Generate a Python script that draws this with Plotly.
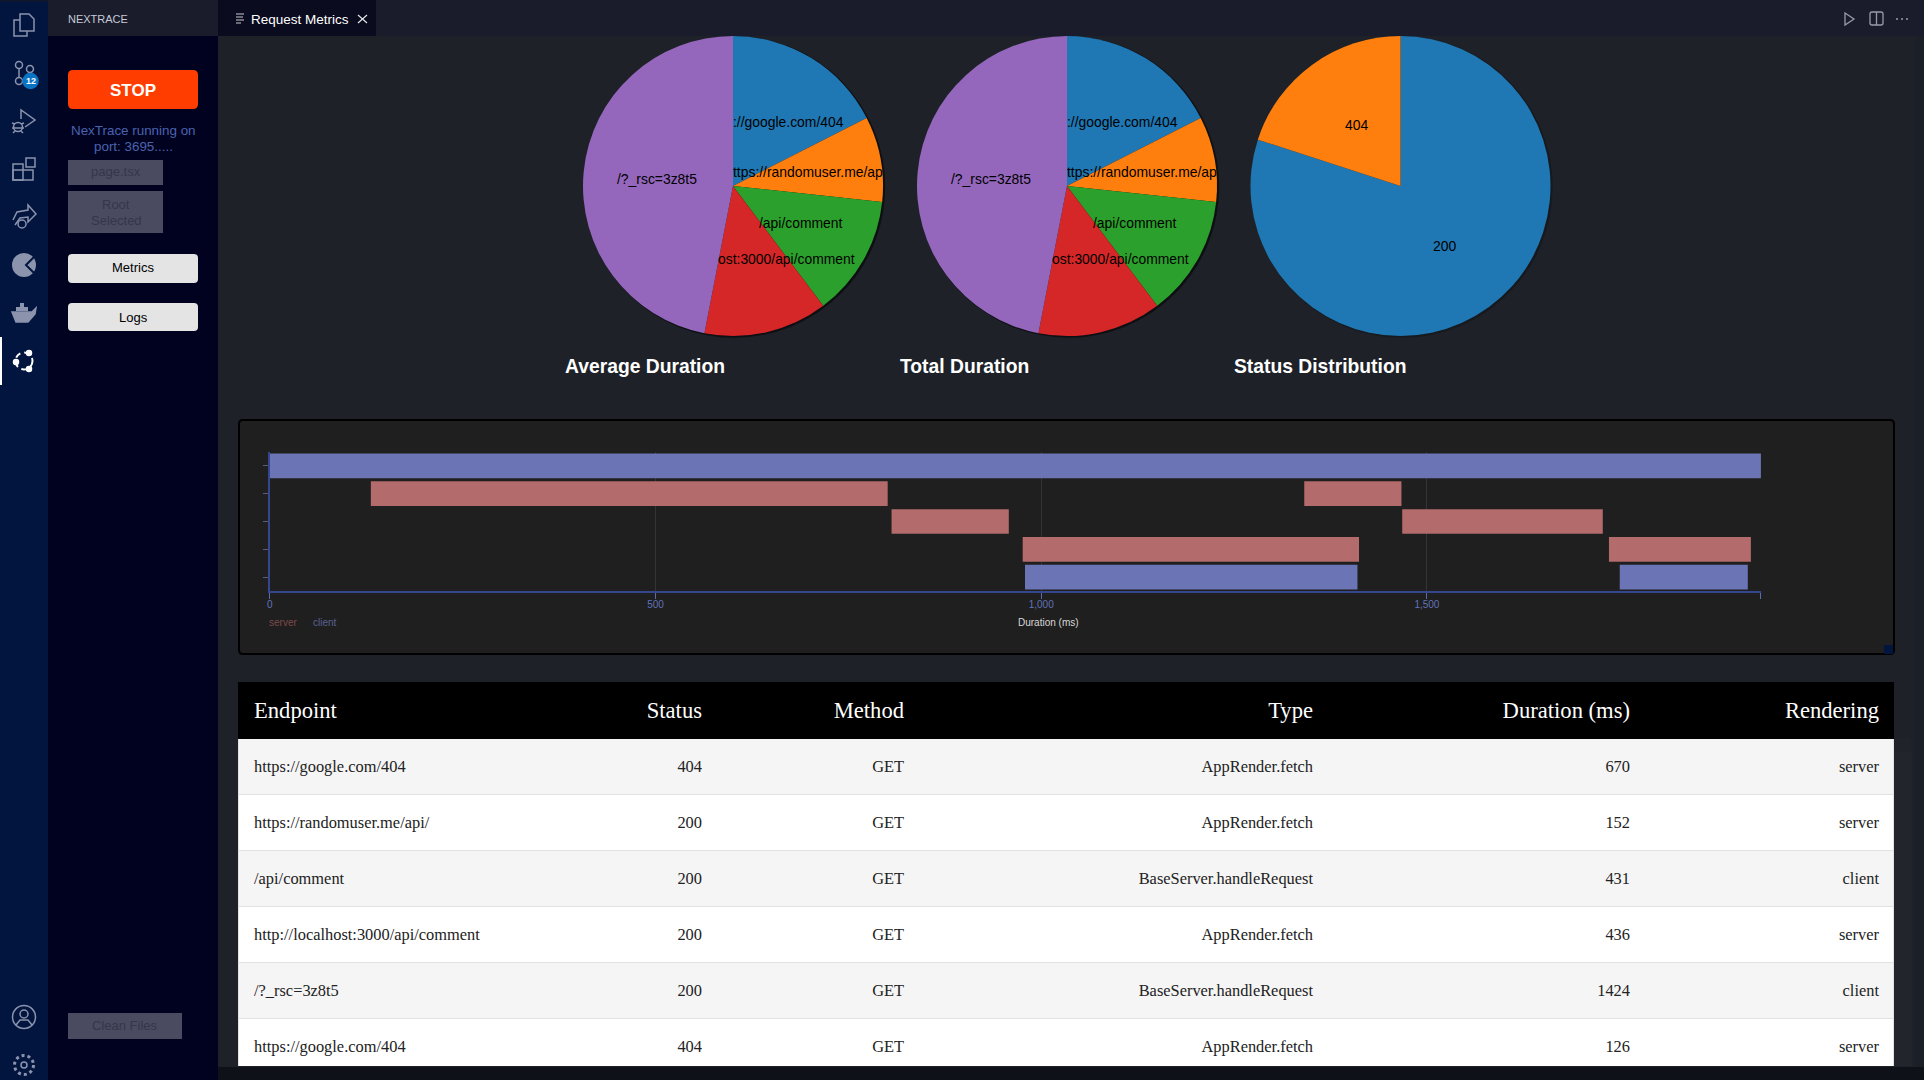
import plotly.graph_objects as go

W = 1924
H = 1080

# pies
endpoints = ["https://google.com/404", "https://randomuser.me/api/", "/api/comment",
             "http://localhost:3000/api/comment", "/?_rsc=3z8t5"]
avg_duration = [531, 279, 395, 404, 1424]
total_duration = [531, 279, 395, 404, 1424]
status_labels = ["200", "404"]
status_counts = [8, 2]
pie_colors = ["#1f77b4", "#ff7f0e", "#2ca02c", "#d62728", "#9467bd"]
# labels as they show, cut off by the pie
pie_text = ["://google.com/404", "ttps://randomuser.me/ap", "/api/comment", "ost:3000/api/comment", "/?_rsc=3z8t5"]

# gantt
gantt_rows = ["/?_rsc=3z8t5", "https://google.com/404", "https://randomuser.me/api/",
              "http://localhost:3000/api/comment", "/api/comment"]
server_row = ["https://google.com/404", "https://google.com/404", "https://randomuser.me/api/",
              "https://randomuser.me/api/", "http://localhost:3000/api/comment",
              "http://localhost:3000/api/comment"]
server_start = [131, 1341, 806, 1468, 976, 1736]
server_duration = [670, 126, 152, 260, 436, 184]
client_row = ["/?_rsc=3z8t5", "/api/comment", "/api/comment"]
client_start = [0, 979, 1750]
client_duration = [1933, 431, 166]
duration_ticks = [0, 500, 1000, 1500, 1933]
duration_ticktext = ["0", "500", "1,000", "1,500", ""]

# table
table_header = ["", "Endpoint", "Status", "Method", "Type", "Duration (ms)", "Rendering", ""]
col_endpoint = ["https://google.com/404", "https://randomuser.me/api/", "/api/comment",
                "http://localhost:3000/api/comment", "/?_rsc=3z8t5", "https://google.com/404"]
col_status = ["404", "200", "200", "200", "200", "404"]
col_method = ["GET", "GET", "GET", "GET", "GET", "GET"]
col_type = ["AppRender.fetch", "AppRender.fetch", "BaseServer.handleRequest", "AppRender.fetch",
            "BaseServer.handleRequest", "AppRender.fetch"]
col_duration = ["670", "152", "431", "436", "1424", "126"]
col_rendering = ["server", "server", "client", "server", "client", "server"]


def px(x):
    return x / W


def py(y):
    return 1 - y / H


def rect(x0, y0, x1, y1, fill, line=None, lw=0):
    return dict(type="rect", xref="paper", yref="paper", x0=px(x0), x1=px(x1), y0=py(y0), y1=py(y1),
                fillcolor=fill, line=dict(color=line or fill, width=lw), layer="below")


def rrect(x0, y0, x1, y1, r, fill, line=None, lw=0):
    d = (f"M{px(x0 + r)},{py(y0)} L{px(x1 - r)},{py(y0)} Q{px(x1)},{py(y0)} {px(x1)},{py(y0 + r)} "
         f"L{px(x1)},{py(y1 - r)} Q{px(x1)},{py(y1)} {px(x1 - r)},{py(y1)} "
         f"L{px(x0 + r)},{py(y1)} Q{px(x0)},{py(y1)} {px(x0)},{py(y1 - r)} "
         f"L{px(x0)},{py(y0 + r)} Q{px(x0)},{py(y0)} {px(x0 + r)},{py(y0)} Z")
    return dict(type="path", xref="paper", yref="paper", path=d, fillcolor=fill,
                line=dict(color=line or fill, width=lw), layer="below")


def circle(cx, cy, r, fill="rgba(0,0,0,0)", line=None, lw=1.5, dash="solid"):
    return dict(type="circle", xref="paper", yref="paper", x0=px(cx - r), x1=px(cx + r), y0=py(cy + r), y1=py(cy - r),
                fillcolor=fill, line=dict(color=line or fill, width=lw, dash=dash), layer="below")


def poly(points, line, lw=1.5, closed=False, fill="rgba(0,0,0,0)"):
    d = "M" + " L".join(f"{px(a)},{py(b)}" for a, b in points)
    if closed:
        d += " Z"
    return dict(type="path", xref="paper", yref="paper", path=d, fillcolor=fill,
                line=dict(color=line, width=lw), layer="below")


def label(x, y, text, size=13, color="#000000", anchor="center", family="Liberation Sans"):
    return dict(xref="paper", yref="paper", x=px(x), y=py(y), text=text, showarrow=False, xanchor=anchor,
                yanchor="middle", font=dict(size=size, color=color, family=family))


BG = "#1e2228"
ICON = "#8b93ad"
NONE = "rgba(0,0,0,0)"

shapes = [
    rect(0, 0, 48, H, "#02153f"),
    rect(48, 0, 218, H, "#01021f"),
    rect(48, 0, W, 36, "#1a1c2c"),
    rect(0, 0, 48, 2, "#0d1730"),
    rect(218, 0, 376, 36, "#0a0b1e"),
    rect(1915, 36, W, H, "#1b1f27"),
    rect(218, 1067, W, H, "#0f1118"),
    rect(0, 337, 2, 385, "#ffffff"),
    # pie drop shadows
    circle(734.5, 187, 150, fill="#0e1014"), circle(1068.5, 187, 150, fill="#0e1014"),
    circle(1402, 187, 150, fill="#171a1f"),
    # gantt panel
    rrect(239, 420, 1894, 654, 4, "#1f1f1f", "#000000", 2),
    rect(1884, 645, 1893, 654, "#02153f"),
    # buttons
    rrect(68, 70, 198, 109, 5, "#ff3d00"),
    rect(68, 160, 163, 185, "#4a4b60"),
    rect(68, 191, 163, 233, "#4a4b60"),
    rrect(68, 254, 198, 283, 4, "#e4e4e4"),
    rrect(68, 303, 198, 331, 4, "#e4e4e4"),
    rect(68, 1013, 182, 1039, "#4a4b60"),
    # files icon
    poly([(20, 14), (29, 14), (34, 19), (34, 31), (20, 31)], ICON, closed=True),
    poly([(20, 20), (14, 20), (14, 36), (27, 36), (27, 31)], ICON),
    # git icon
    circle(19, 65, 3.5, line=ICON), circle(19, 81, 3.5, line=ICON), circle(30, 69, 3.5, line=ICON),
    poly([(19, 69), (19, 77)], ICON), poly([(30, 73), (23, 80)], ICON),
    # debug icon
    poly([(21, 119), (21, 110), (35, 120), (25, 127)], ICON),
    circle(18, 127, 4.5, line=ICON),
    poly([(12, 123), (15, 124)], ICON), poly([(24, 123), (21, 124)], ICON),
    poly([(12, 128), (24, 128)], ICON), poly([(13, 133), (15, 131)], ICON), poly([(23, 133), (21, 131)], ICON),
    # extensions icon
    rect(13, 164, 23, 180, NONE, ICON, 1.5),
    rect(13, 170, 33, 180, NONE, ICON, 1.5),
    rect(26, 158, 35, 167, NONE, ICON, 1.5),
    # remote icon
    poly([(13, 220), (17, 212), (28, 210), (28, 205), (36, 214), (28, 222), (28, 217), (20, 218), (15, 225)], ICON),
    circle(22, 224, 4, line=ICON),
    # pie icon
    circle(24, 265, 12, fill=ICON, line=ICON, lw=0),
    poly([(35, 256), (26, 265), (35, 274)], "#02153f", 2),
    # docker icon
    poly([(12, 312), (32, 312), (36, 308), (35, 314), (28, 322), (16, 322)], ICON, closed=True, fill=ICON),
    rect(16, 307, 28, 311, ICON), rect(20, 303, 24, 307, ICON),
    # nexus icon
    circle(24, 361, 8.5, line="#ffffff", lw=2, dash="6px,4px"),
    circle(29, 353, 2.5, fill="#ffffff"), circle(16, 362, 2.5, fill="#ffffff"), circle(29, 369, 2.5, fill="#ffffff"),
    # badge
    circle(30.5, 81, 7.5, fill="#0a74c4"),
    # account, gear
    circle(24, 1017, 11.5, line=ICON), circle(24, 1014, 4, line=ICON),
    poly([(16, 1025), (20, 1020), (28, 1020), (32, 1025)], ICON),
    circle(24, 1065, 9.5, line=ICON, lw=3, dash="3px,3px"), circle(24, 1065, 3, line=ICON),
    # tab icon and close
    poly([(236, 14), (244, 14)], "#c8c8d0", 1), poly([(236, 17), (243, 17)], "#c8c8d0", 1),
    poly([(236, 20), (244, 20)], "#c8c8d0", 1), poly([(236, 23), (241, 23)], "#c8c8d0", 1),
    poly([(358, 15), (367, 23)], "#e8e8e8", 1.2), poly([(367, 15), (358, 23)], "#e8e8e8", 1.2),
    # editor actions
    poly([(1845, 13), (1854, 19), (1845, 25)], "#9a9aa6", 1.3, closed=True),
    rrect(1870, 12, 1883, 25, 2, NONE, "#9a9aa6", 1.3),
    poly([(1876.5, 12), (1876.5, 25)], "#9a9aa6", 1.3),
    circle(1897, 19, 1, fill="#9a9aa6", lw=0), circle(1902, 19, 1, fill="#9a9aa6", lw=0),
    circle(1907, 19, 1, fill="#9a9aa6", lw=0),
]

annotations = [
    label(65.5, 19, "NEXTRACE", 11, "#c6cad6", "left"),
    label(249, 19, "Request Metrics", 13.5, "#ffffff", "left"),
    label(133, 90, "<b>STOP</b>", 17, "#ffffff"),
    label(133, 131, "NexTrace running on", 13.4, "#4a62b0"),
    label(133, 146, "port: 3695.....", 13.4, "#4a62b0"),
    label(116, 172, "page.tsx", 13, "#35364a"),
    label(116, 204, "Root", 13, "#35364a"),
    label(116, 220, "Selected", 13, "#35364a"),
    label(133, 268, "Metrics", 13),
    label(133, 317, "Logs", 13),
    label(125, 1025, "Clean Files", 13, "#35364a"),
    label(30.5, 81, "<b>12</b>", 9, "#ffffff"),
    label(644.5, 366, "<b>Average Duration</b>", 19.3, "#ffffff"),
    label(964, 366, "<b>Total Duration</b>", 19.3, "#ffffff"),
    label(1320, 366, "<b>Status Distribution</b>", 19.3, "#ffffff"),
    label(266.5, 622, "server", 10, "#7d4a4a", "left"),
    label(310.5, 622, "client", 10, "#5a6090", "left"),
    label(1048, 622, "Duration (ms)", 10, "#d8d8d8"),
    label(1356, 125, "404", 13.9),
    label(1444, 246, "200", 13.9),
]

# same label spots on both duration pies
label_x = [730.5, 730.5, 756.5, 715.5, 615]
label_y = [122, 172, 223, 259, 179]
for offset in [0, 334]:
    for t, lx, ly in zip(pie_text, label_x, label_y):
        annotations.append(label(lx + offset, ly, t, 13.9, "#000000", "left"))

fig = go.Figure()


def add_pie(labels, values, colors, x0, x1):
    fig.add_trace(go.Pie(labels=labels, values=values, sort=False, direction="clockwise", rotation=0,
                         marker=dict(colors=colors, line=dict(width=0)), textinfo="none", showlegend=False,
                         domain=dict(x=[px(x0), px(x1)], y=[py(336), py(36)])))


add_pie(endpoints, avg_duration, pie_colors, 583, 883)
add_pie(endpoints, total_duration, pie_colors, 917, 1217)
add_pie(status_labels, status_counts, pie_colors[:2], 1250.5, 1550.5)

fig.add_trace(go.Bar(name="server", y=server_row, x=server_duration, base=server_start, orientation="h",
                     marker=dict(color="#b46b6b", line=dict(width=0)), width=0.89, showlegend=False))
fig.add_trace(go.Bar(name="client", y=client_row, x=client_duration, base=client_start, orientation="h",
                     marker=dict(color="#6b74b4", line=dict(width=0)), width=0.89, showlegend=False))

n = len(col_endpoint)
row_fill = ["#f5f5f5" if i % 2 == 0 else "#ffffff" for i in range(n)]
blank = [""] * n

# one wide column gives the stripes and the row rules without column rules
fig.add_trace(go.Table(
    domain=dict(x=[px(238), px(1894)], y=[py(1067), py(682)]),
    header=dict(values=[""], fill=dict(color="#000000"), height=56, line=dict(color="#000000", width=1)),
    cells=dict(values=[blank], fill=dict(color=[row_fill]), height=56, line=dict(color="#e2e2e2", width=1))))

# text sits lower than the table trace would put it, so it goes in a second table on top
fig.add_trace(go.Table(
    domain=dict(x=[px(239), px(1894)], y=[py(1067), py(693)]),
    columnwidth=[7, 314, 150, 202, 409, 317, 249, 7],
    header=dict(values=table_header, fill=dict(color=NONE), height=59, line=dict(color=NONE, width=1),
                align=["left", "left", "right", "right", "right", "right", "right", "right"],
                font=dict(family="Liberation Serif", size=22.6, color="#ffffff")),
    cells=dict(values=[blank, col_endpoint, col_status, col_method, col_type, col_duration, col_rendering, blank],
               fill=dict(color=NONE), height=56, line=dict(color=NONE, width=1),
               align=["left", "left", "right", "right", "right", "right", "right", "right"],
               font=dict(family="Liberation Serif", size=16.4, color="#222222"))))

fig.update_layout(
    width=W, height=H, margin=dict(l=0, r=0, t=0, b=0, autoexpand=False), paper_bgcolor=BG, plot_bgcolor="#1f1f1f",
    barmode="overlay", shapes=shapes, annotations=annotations, hovermode=False,
    xaxis=dict(domain=[px(269.8), px(1761.3)], range=[0, 1933.5], tickvals=duration_ticks, ticktext=duration_ticktext,
               ticks="outside", ticklen=6, tickcolor="#5a6ab0", showline=True, linecolor="#34468f", linewidth=2,
               gridcolor="#343436", gridwidth=1, zeroline=False, ticklabelstandoff=-3,
               tickfont=dict(family="Liberation Sans", size=10, color="#6272b8")),
    yaxis=dict(domain=[py(591), py(452)], type="category", categoryorder="array", categoryarray=gantt_rows,
               autorange="reversed", showticklabels=False, ticks="outside", ticklen=5, tickcolor="#555d80",
               showline=True, linecolor="#34468f", linewidth=2, showgrid=False, zeroline=False),
)

fig.write_html("out.html", config=dict(displayModeBar=False),
               post_script="document.body.style.margin='0';document.body.style.overflow='hidden';")
